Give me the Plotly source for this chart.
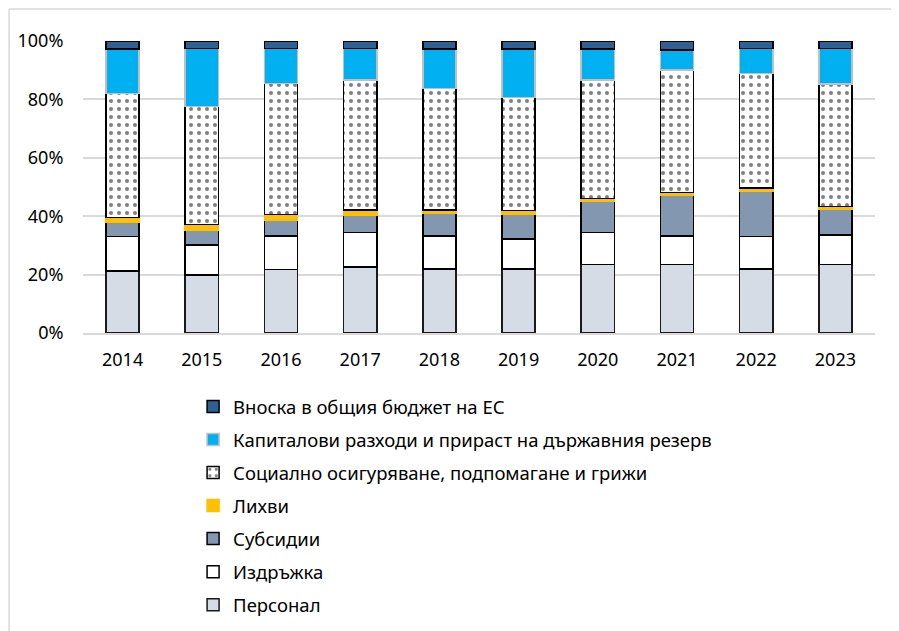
import plotly.graph_objects as go

years = ["2014", "2015", "2016", "2017", "2018", "2019", "2020", "2021", "2022", "2023"]

personal = [21.3, 19.9, 21.8, 22.6, 22.0, 22.0, 23.5, 23.5, 22.0, 23.5]
izdrazhka = [11.7, 10.3, 11.5, 11.9, 11.3, 10.2, 11.0, 9.7, 11.0, 10.1]
subsidii = [4.8, 5.0, 5.2, 5.7, 7.7, 8.6, 10.5, 14.1, 15.7, 8.8]
lihvi = [1.8, 1.9, 2.1, 1.9, 1.1, 1.2, 1.1, 0.9, 0.9, 0.9]
socialno = [42.4, 40.4, 44.9, 44.5, 41.7, 38.7, 40.5, 41.9, 39.3, 42.0]
kapitalovi = [15.2, 19.9, 11.9, 10.8, 13.5, 16.6, 10.6, 6.8, 8.5, 12.1]
vnoska_es = [2.8, 2.6, 2.6, 2.6, 2.7, 2.7, 2.8, 3.1, 2.6, 2.6]

series = [
    ("Персонал", personal, "#d6dce5", "#1a1a1a", None),
    ("Издръжка", izdrazhka, "#ffffff", "#000000", None),
    ("Субсидии", subsidii, "#8497b0", "#000000", None),
    ("Лихви", lihvi, "#ffc000", "#ffc000", None),
    ("Социално осигуряване, подпомагане и грижи", socialno, "#ffffff", "#000000",
     dict(shape=".", fgcolor="#000000", bgcolor="#ffffff", size=8, solidity=0.2)),
    ("Капиталови разходи и прираст на държавния резерв", kapitalovi, "#00b0f0", "#bfbfbf", None),
    ("Вноска в общия бюджет на ЕС", vnoska_es, "#2e6094", "#000000", None),
]

fig = go.Figure()
for i, (name, vals, fill, edge, pattern) in enumerate(series):
    marker = dict(color=fill, line=dict(color=edge, width=1.5))
    if pattern:
        marker["pattern"] = pattern
    fig.add_trace(go.Bar(x=years, y=vals, name=name, marker=marker,
                         legendgroup=str(i), legendrank=100 - i, width=0.42))

# page body has an 8px default margin, so the figure is 8px smaller
font = "Noto Sans, sans-serif"
fig.update_layout(
    barmode="stack", barnorm="percent",
    width=891, height=623,
    margin=dict(l=75, r=24, t=33, b=298, autoexpand=False),
    paper_bgcolor="white", plot_bgcolor="white",
    font=dict(family=font, size=18, color="#000000"),
    legend=dict(traceorder="grouped", tracegroupgap=6,
                x=0.139, xanchor="left", y=-0.188, yanchor="top",
                font=dict(size=18.5), itemclick=False),
    shapes=[
        dict(type="line", xref="paper", yref="paper", x0=-0.0934, x1=1.1, y0=1.1096, y1=1.1096,
             line=dict(color="#d9d9d9", width=1.5)),
        dict(type="line", xref="paper", yref="paper", x0=-0.0934, x1=-0.0934, y0=1.1096, y1=-1.2,
             line=dict(color="#d9d9d9", width=1.5)),
    ],
)
fig.update_xaxes(showgrid=False, showline=True, linecolor="#d9d9d9", linewidth=1.5,
                 ticks="outside", ticklen=10, tickcolor="rgba(0,0,0,0)")
fig.update_yaxes(range=[0, 100], dtick=20, ticksuffix="%", gridcolor="#d9d9d9", gridwidth=1.5,
                 zeroline=False, ticks="outside", ticklen=15, tickcolor="rgba(0,0,0,0)")

fig.write_html("out.html")
